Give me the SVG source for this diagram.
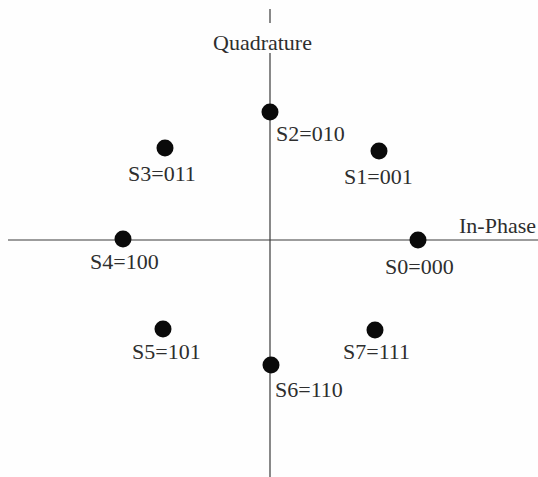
<svg xmlns="http://www.w3.org/2000/svg" width="538" height="477" viewBox="0 0 538 477">
<style>
.ax{stroke:#3a3a3a;stroke-width:1.2;fill:none}
.pt{fill:#0a0a0a}
text{font-family:"Liberation Serif","Times New Roman",serif;font-size:22px;fill:#2e2e2e}
</style>
<rect width="538" height="477" fill="#fefefe"/>
<g id="axes">
<line class="ax" x1="270" y1="9" x2="270" y2="23" stroke-width="0.8"/>
<line class="ax" x1="270" y1="53" x2="270" y2="477"/>
<line class="ax" x1="8" y1="240" x2="538" y2="240"/>
<text x="213" y="50">Quadrature</text>
<text x="459" y="233">In-Phase</text>
</g>
<g id="S0"><circle class="pt" cx="418" cy="240" r="8.5"/><text x="385" y="274">S0=000</text></g>
<g id="S1"><circle class="pt" cx="379" cy="151" r="8.5"/><text x="344" y="184">S1=001</text></g>
<g id="S2"><circle class="pt" cx="270" cy="112" r="8.5"/><text x="276" y="141">S2=010</text></g>
<g id="S3"><circle class="pt" cx="165" cy="148" r="8.5"/><text x="128" y="181">S3=011</text></g>
<g id="S4"><circle class="pt" cx="123" cy="239" r="8.5"/><text x="90" y="269">S4=100</text></g>
<g id="S5"><circle class="pt" cx="163" cy="329" r="8.5"/><text x="132" y="359">S5=101</text></g>
<g id="S6"><circle class="pt" cx="271" cy="365" r="8.5"/><text x="275" y="397">S6=110</text></g>
<g id="S7"><circle class="pt" cx="375" cy="330" r="8.5"/><text x="343" y="359">S7=111</text></g>
</svg>
